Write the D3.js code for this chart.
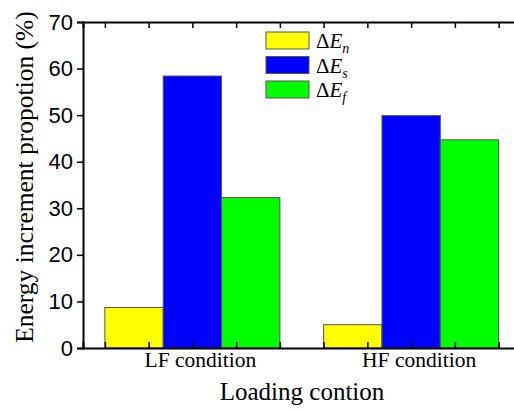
<!DOCTYPE html>
<html>
<head>
<meta charset="utf-8">
<script src="https://cdn.jsdelivr.net/npm/d3@7"></script>
<style>
  body { margin: 0; background: #fff; }
  svg { display: block; }
  .serif { font-family: "Liberation Serif", "Times New Roman", "DejaVu Serif", serif; }
  .sans { font-family: "Liberation Sans", Arial, sans-serif; }
</style>
</head>
<body>
<div class="chart"></div>
<script>
// data
var conditions = ["LF condition", "HF condition"];
var seriesNames = ["n", "s", "f"];
var seriesColors = ["#ffff00", "#0000ff", "#00ff00"];
var valuesN = [8.7, 5.0];
var valuesS = [58.4, 49.9];
var valuesF = [32.3, 44.7];
var yTicks = [0, 10, 20, 30, 40, 50, 60, 70];
var xMinorTicks = [0.6, 0.8, 1.0, 1.2, 1.4, 1.6, 1.8, 2.0, 2.2, 2.4];

var svgWidth = 514;
var svgHeight = 410;

var svg = d3.select(".chart")
    .append("svg")
    .attr("width", svgWidth)
    .attr("height", svgHeight);

// scales: x is a continuous axis, categories sit at 1 and 2
var xScale = d3.scaleLinear().domain([0.5, 2.5]).range([83, 520.5]);
var yScale = d3.scaleLinear().domain([0, 70]).range([348, 22]);

var allSeries = [valuesN, valuesS, valuesF];
var groupWidth = 0.8;
var barW = groupWidth / 3;

// bars
allSeries.forEach(function (vals, si) {
    svg.append("g").selectAll("rect")
        .data(vals)
        .enter()
        .append("rect")
        .attr("x", function (d, i) { return xScale(i + 1 - groupWidth / 2 + si * barW); })
        .attr("width", xScale(barW) - xScale(0))
        .attr("y", function (d) { return yScale(d); })
        .attr("height", function (d) { return yScale(0) - yScale(d); })
        .attr("fill", seriesColors[si])
        .attr("stroke", "#555")
        .attr("stroke-width", 1);
});

// axes
var yAxis = d3.axisLeft(yScale).tickValues(yTicks).tickSize(6).tickPadding(4);
var yAxisRight = d3.axisLeft(yScale).tickValues(yTicks).tickSize(6).tickFormat("");
var xBottom = d3.axisTop(xScale).tickValues(xMinorTicks).tickSize(6).tickFormat("");
var xTop = d3.axisBottom(xScale).tickValues(xMinorTicks).tickSize(6).tickFormat("");

svg.append("g").attr("class", "axis y-axis")
    .attr("transform", "translate(" + xScale(0.5) + ",0)")
    .call(yAxis);
svg.append("g").attr("class", "axis")
    .attr("transform", "translate(" + xScale(2.5) + ",0)")
    .call(yAxisRight);
svg.append("g").attr("class", "axis")
    .attr("transform", "translate(0," + yScale(0) + ")")
    .call(xBottom);
svg.append("g").attr("class", "axis")
    .attr("transform", "translate(0," + yScale(70) + ")")
    .call(xTop);

svg.selectAll(".axis path").attr("stroke", "#000").attr("stroke-width", 2);
svg.selectAll(".axis line").attr("stroke", "#000").attr("stroke-width", 1.5);
svg.selectAll(".y-axis text")
    .attr("font-family", null)
    .attr("class", "sans")
    .style("font-size", "22px")
    .attr("fill", "#000");

// category labels (set slightly right of the group centres, as in the source)
svg.append("g").selectAll("text")
    .data(conditions)
    .enter()
    .append("text")
    .attr("class", "serif")
    .attr("x", function (d, i) { return xScale(i + 1) + 8; })
    .attr("y", 367)
    .attr("text-anchor", "middle")
    .style("font-size", "21.5px")
    .text(function (d) { return d; });

// axis titles
svg.append("text")
    .attr("class", "serif")
    .attr("x", 302)
    .attr("y", 400)
    .attr("text-anchor", "middle")
    .style("font-size", "25px")
    .text("Loading contion");

svg.append("text")
    .attr("class", "serif")
    .attr("transform", "translate(33,177) rotate(-90)")
    .attr("text-anchor", "middle")
    .style("font-size", "25.5px")
    .text("Energy increment propotion (%)");

// legend
var legend = svg.append("g").attr("transform", "translate(266,32)");
seriesNames.forEach(function (name, i) {
    var row = legend.append("g").attr("transform", "translate(0," + (i * 24.5) + ")");
    row.append("rect")
        .attr("width", 43)
        .attr("height", 17)
        .attr("fill", seriesColors[i])
        .attr("stroke", "#555")
        .attr("stroke-width", 1);
    var t = row.append("text")
        .attr("class", "serif")
        .attr("x", 50)
        .attr("y", 16)
        .style("font-size", "21px");
    t.append("tspan").text("\u0394");
    t.append("tspan").style("font-style", "italic").text("E");
    t.append("tspan").style("font-style", "italic").style("font-size", "14px").attr("dy", 5).text(name);
});
</script>
</body>
</html>
